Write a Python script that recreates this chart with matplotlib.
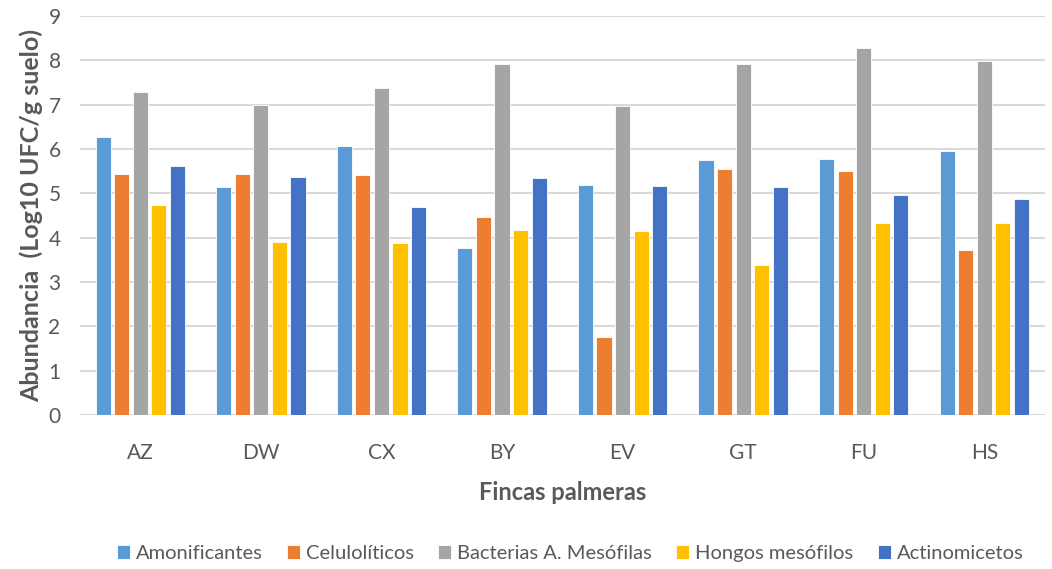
import matplotlib
matplotlib.use('Agg')
import matplotlib.pyplot as plt
import numpy as np

plt.rcParams['font.family'] = ['Lato', 'DejaVu Sans']

# Data
fincas = ['AZ', 'DW', 'CX', 'BY', 'EV', 'GT', 'FU', 'HS']
series_names = ['Amonificantes', 'Celulolíticos', 'Bacterias A. Mesófilas',
                'Hongos mesófilos', 'Actinomicetos']
amonificantes = [6.28, 5.14, 6.06, 3.76, 5.18, 5.74, 5.77, 5.95]
celuloliticos = [5.43, 5.44, 5.41, 4.46, 1.75, 5.54, 5.50, 3.73]
bacterias = [7.29, 7.00, 7.38, 7.92, 6.97, 7.92, 8.27, 7.98]
hongos = [4.73, 3.89, 3.87, 4.17, 4.14, 3.39, 4.32, 4.32]
actinomicetos = [5.62, 5.37, 4.68, 5.35, 5.17, 5.14, 4.96, 4.86]
colors = ['#5b9bd5', '#ed7d31', '#a5a5a5', '#ffc000', '#4472c4']

all_series = [amonificantes, celuloliticos, bacterias, hongos, actinomicetos]

fig = plt.figure(figsize=(10.52, 5.69), dpi=100)
ax = fig.add_axes([0.076, 0.2707, 0.917, 0.7013])

x = np.arange(len(fincas))
step = 0.154
width = 0.125
for i, (vals, name, c) in enumerate(zip(all_series, series_names, colors)):
    ax.bar(x + (i - 2) * step, vals, width, color=c, label=name,
           edgecolor='white', linewidth=0.6, zorder=3)

ax.set_xlim(-0.5, len(fincas) - 0.5)
ax.set_ylim(0, 9)
ax.set_yticks(range(10))
ax.set_xticks(x)
ax.set_xticklabels(fincas)
ax.grid(axis='y', color='#d9d9d9', linewidth=1.5, zorder=0)
for s in ax.spines.values():
    s.set_visible(False)
ax.tick_params(length=0, labelsize=15, colors='#595959')
ax.tick_params(axis='x', pad=20)
ax.tick_params(axis='y', pad=14)

ax.set_ylabel('Abundancia  (Log10 UFC/g suelo)', fontsize=18,
              fontweight='bold', color='#595959', labelpad=4)
ax.set_xlabel('Fincas palmeras', fontsize=17, fontweight='bold',
              color='#595959', labelpad=13)

fig.legend(loc='center', bbox_to_anchor=(0.542, 0.027), ncol=5,
           frameon=False, fontsize=14.5, labelcolor='#595959',
           handlelength=0.65, handleheight=0.65, handletextpad=0.3,
           columnspacing=1.2)

fig.savefig('out.png', dpi=100)
